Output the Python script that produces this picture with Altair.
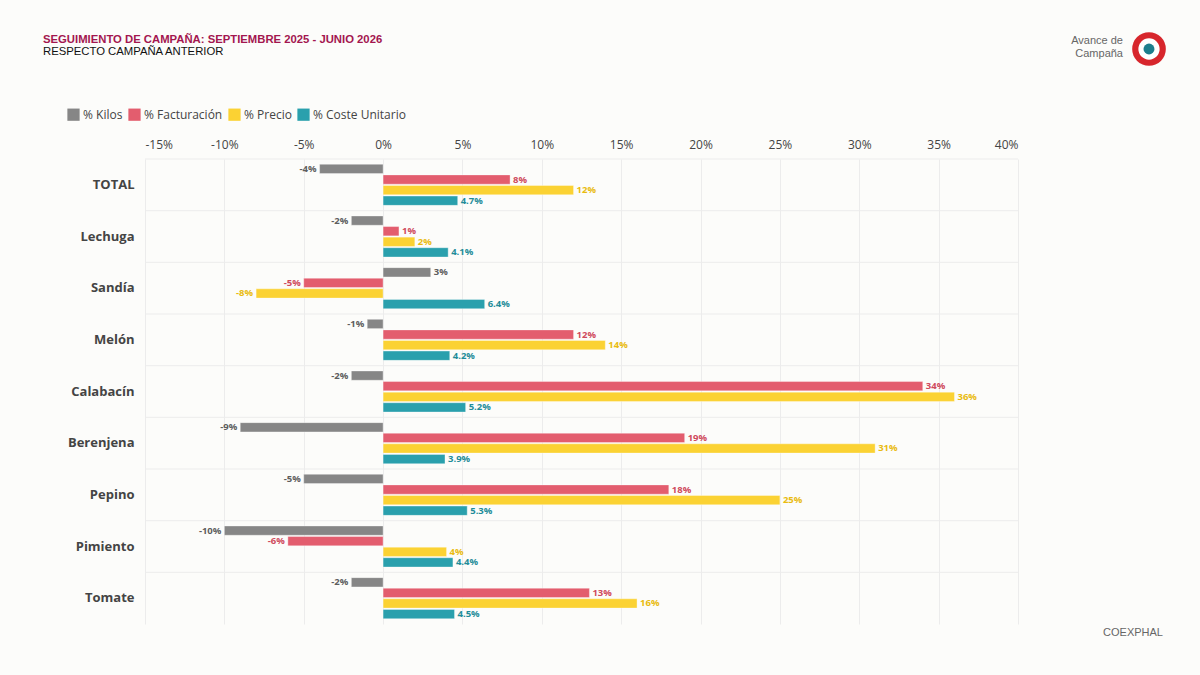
import altair as alt
import pandas as pd

productos = ["TOTAL", "Lechuga", "Sandía", "Melón", "Calabacín", "Berenjena", "Pepino", "Pimiento", "Tomate"]
series = ["% Kilos", "% Facturación", "% Precio", "% Coste Unitario"]
kilos = [-4, -2, 3, -1, -2, -9, -5, -10, -2]
facturacion = [8, 1, -5, 12, 34, 19, 18, -6, 13]
precio = [12, 2, -8, 14, 36, 31, 25, 4, 16]
coste = [4.7, 4.1, 6.4, 4.2, 5.2, 3.9, 5.3, 4.4, 4.5]
x_ticks = [-15, -10, -5, 0, 5, 10, 15, 20, 25, 30, 35, 40]

bar_colors = ["#868686", "#e35d6e", "#fbd233", "#2aa0ad"]
label_colors = ["#5e5e5e", "#cf4a5d", "#e9bb10", "#1f8c99"]

rows = []
for s_i, (s, vals) in enumerate(zip(series, [kilos, facturacion, precio, coste])):
    for p, v in zip(productos, vals):
        lbl = f"{v:.1f}%" if s == "% Coste Unitario" else f"{int(v)}%"
        rows.append({"Producto": p, "Serie": s, "Valor": v, "Etiqueta": lbl,
                     "LabelColor": label_colors[s_i]})
df = pd.DataFrame(rows)

FONT = "Open Sans"

y_enc = alt.Y("Producto:N", sort=productos, title=None,
              scale=alt.Scale(paddingInner=0, paddingOuter=0),
              axis=alt.Axis(labelFont=FONT, labelFontSize=13, labelFontWeight="bold",
                            labelColor="#444444", labelPadding=11, tickSize=0, ticks=False,
                            domain=False, grid=False))
yoff = alt.YOffset("Serie:N", sort=series,
                   scale=alt.Scale(paddingInner=0.12, paddingOuter=0.5))
x_scale = alt.Scale(domain=[-15, 40], nice=False)

base = alt.Chart(df)

bars = base.mark_bar(stroke="#ffffff", strokeWidth=0.6, strokeOpacity=0.6).encode(
    x=alt.X("Valor:Q", scale=x_scale, title=None,
            axis=alt.Axis(orient="top", values=x_ticks, labelExpr="datum.value + '%'",
                          labelFont=FONT, labelFontSize=12, labelColor="#444444",
                          labelPadding=8, tickSize=0, ticks=False, domain=False,
                          grid=True, gridColor="#ececec", gridWidth=1)),
    y=y_enc,
    yOffset=yoff,
    color=alt.Color("Serie:N", sort=series, title=None,
                    scale=alt.Scale(domain=series, range=bar_colors),
                    legend=alt.Legend(orient="none", legendX=-78, legendY=-51,
                                      direction="horizontal", symbolType="square",
                                      symbolSize=150, symbolStrokeWidth=0,
                                      labelFont=FONT, labelFontSize=12, labelColor="#444444",
                                      columnPadding=5, symbolOffset=0, labelOffset=3)),
)

pos_labels = base.transform_filter("datum.Valor >= 0").mark_text(
    align="left", baseline="middle", dx=3, font=FONT, fontSize=9.5, fontWeight="bold"
).encode(
    x=alt.X("Valor:Q", scale=x_scale),
    y=alt.Y("Producto:N", sort=productos),
    yOffset=yoff,
    text="Etiqueta:N",
    color=alt.Color("LabelColor:N", scale=None),
)
neg_labels = base.transform_filter("datum.Valor < 0").mark_text(
    align="right", baseline="middle", dx=-3, font=FONT, fontSize=9.5, fontWeight="bold"
).encode(
    x=alt.X("Valor:Q", scale=x_scale),
    y=alt.Y("Producto:N", sort=productos),
    yOffset=yoff,
    text="Etiqueta:N",
    color=alt.Color("LabelColor:N", scale=None),
)

sep = alt.Chart(pd.DataFrame({"Producto": productos})).mark_rule(
    color="#ececec", strokeWidth=1
).encode(
    y=alt.Y("Producto:N", sort=productos, bandPosition=0),
    x=alt.value(0), x2=alt.value(873),
)

one = pd.DataFrame({"k": [0]})
title1 = alt.Chart(one).mark_text(
    text="SEGUIMIENTO DE CAMPAÑA: SEPTIEMBRE 2025 - JUNIO 2026", align="left",
    baseline="middle", font="Liberation Sans", fontSize=11.3, fontWeight="bold",
    color="#a3164f").encode(x=alt.value(-102), y=alt.value(-119))
title2 = alt.Chart(one).mark_text(
    text="RESPECTO CAMPAÑA ANTERIOR", align="left", baseline="middle",
    font="Liberation Sans", fontSize=11.3, color="#111111").encode(
    x=alt.value(-102), y=alt.value(-107))
logo_t1 = alt.Chart(one).mark_text(
    text="Avance de", align="right", baseline="middle", font="Liberation Sans",
    fontSize=11, color="#666666").encode(x=alt.value(978), y=alt.value(-118))
logo_t2 = alt.Chart(one).mark_text(
    text="Campaña", align="right", baseline="middle", font="Liberation Sans",
    fontSize=11, color="#666666").encode(x=alt.value(978), y=alt.value(-105))
ring = alt.Chart(one).mark_point(shape="circle", filled=True, opacity=1,
                                 color="#d7262c", size=1134).encode(
    x=alt.value(1004), y=alt.value(-110))
inner = alt.Chart(one).mark_point(shape="circle", filled=True, opacity=1,
                                  color="#ffffff", size=452).encode(
    x=alt.value(1004), y=alt.value(-110))
dot = alt.Chart(one).mark_point(shape="circle", filled=True, opacity=1,
                                color="#1d7d8c", size=120).encode(
    x=alt.value(1004), y=alt.value(-110))
source = alt.Chart(one).mark_text(
    text="COEXPHAL", align="right", baseline="middle", font="Liberation Sans",
    fontSize=11, color="#666666").encode(x=alt.value(1018), y=alt.value(474))

chart = alt.layer(
    sep, bars, pos_labels, neg_labels, title1, title2, logo_t1, logo_t2,
    ring, inner, dot, source
).properties(
    width=873, height=465,
    autosize=alt.AutoSizeParams(type="none"),
    padding={"left": 145, "top": 159, "right": 182, "bottom": 51},
    background="#fcfcfa",
).configure_view(stroke=None)

chart.save("out.html", embed_options={"renderer": "svg", "actions": False})
